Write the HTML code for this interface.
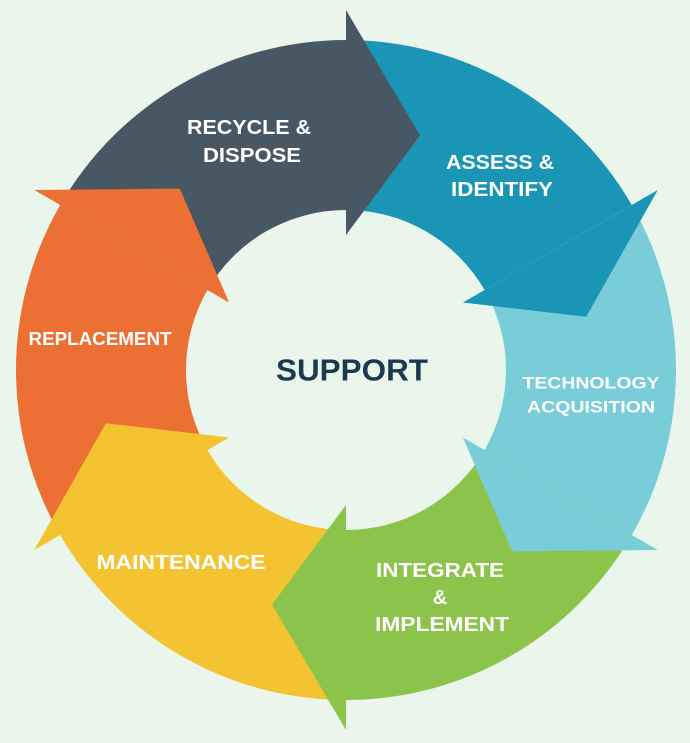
<!DOCTYPE html>
<html><head><meta charset="utf-8"><style>
html,body{margin:0;padding:0;background:#eaf6ec;width:690px;height:743px;overflow:hidden;}
#w{position:absolute;left:0;top:0;width:690px;height:743px;overflow:hidden;}
svg{display:block;overflow:hidden}
text{font-family:"Liberation Sans",sans-serif;font-weight:bold;fill:#fff;text-anchor:middle;dominant-baseline:central}
</style></head><body>
<div id="w">
<svg width="690" height="743" viewBox="0 0 690 743">
<rect width="690" height="743" fill="#eaf6ec"/>
<defs>
<path id="body" d="M60.2,205 A330,330 0 0 1 346,40 L346,210 A160,160 0 0 0 207.4,290 Z"/>
<path id="head" d="M346,10 L346,235 L420,135.4 Z"/>
</defs>
<use href="#body" fill="#475864"/>
<use href="#body" fill="#1b95b5" transform="rotate(60 346 370)"/>
<use href="#body" fill="#79cdd8" transform="rotate(120 346 370)"/>
<use href="#body" fill="#8cc34a" transform="rotate(180 346 370)"/>
<use href="#body" fill="#f3c331" transform="rotate(240 346 370)"/>
<use href="#body" fill="#ec6f33" transform="rotate(300 346 370)"/>
<use href="#head" fill="#475864"/>
<use href="#head" fill="#1b95b5" transform="rotate(60 346 370)"/>
<use href="#head" fill="#79cdd8" transform="rotate(120 346 370)"/>
<use href="#head" fill="#8cc34a" transform="rotate(180 346 370)"/>
<use href="#head" fill="#f3c331" transform="rotate(240 346 370)"/>
<use href="#head" fill="#ec6f33" transform="rotate(300 346 370)"/>
<text x="249" y="128" font-size="20" textLength="124" lengthAdjust="spacingAndGlyphs">RECYCLE &amp;</text>
<text x="252" y="156" font-size="20" textLength="98" lengthAdjust="spacingAndGlyphs">DISPOSE</text>
<text x="500" y="163" font-size="20" textLength="108" lengthAdjust="spacingAndGlyphs">ASSESS &amp;</text>
<text x="502" y="190" font-size="20" textLength="102" lengthAdjust="spacingAndGlyphs">IDENTIFY</text>
<text x="591" y="383" font-size="17" textLength="137" lengthAdjust="spacingAndGlyphs">TECHNOLOGY</text>
<text x="591" y="407" font-size="17" textLength="128" lengthAdjust="spacingAndGlyphs">ACQUISITION</text>
<text x="440" y="571" font-size="20" textLength="128" lengthAdjust="spacingAndGlyphs">INTEGRATE</text>
<text x="440" y="598" font-size="20">&amp;</text>
<text x="442" y="625" font-size="20" textLength="134" lengthAdjust="spacingAndGlyphs">IMPLEMENT</text>
<text x="181" y="563" font-size="20" textLength="169" lengthAdjust="spacingAndGlyphs">MAINTENANCE</text>
<text x="100" y="339" font-size="18" textLength="143" lengthAdjust="spacingAndGlyphs">REPLACEMENT</text>
<text x="352" y="370" font-size="31" style="fill:#1c3a4e" textLength="152" lengthAdjust="spacingAndGlyphs">SUPPORT</text>
</svg>
</div>
</body></html>
